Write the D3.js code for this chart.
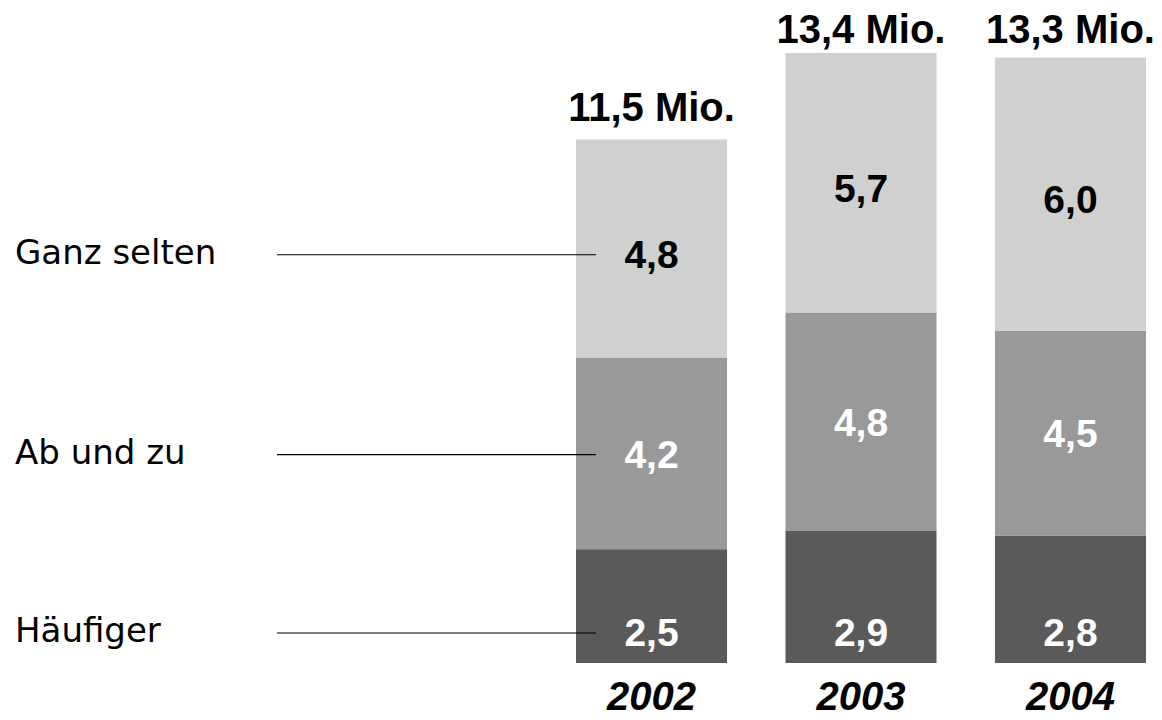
<!DOCTYPE html>
<html>
<head>
<meta charset="utf-8">
<script src="https://cdn.jsdelivr.net/npm/d3@7/dist/d3.min.js"></script>
<style>
  html, body { margin: 0; padding: 0; background: #fff; }
  svg { display: block; }
</style>
</head>
<body>
<svg id="chart" width="1162" height="720"></svg>
<script>
// ---- data ----
const years = ["2002", "2003", "2004"];
const seriesNames = ["Häufiger", "Ab und zu", "Ganz selten"];
const haeufiger = [2.5, 2.9, 2.8];
const abUndZu = [4.2, 4.8, 4.5];
const ganzSelten = [4.8, 5.7, 6.0];

const seriesValues = [haeufiger, abUndZu, ganzSelten];
const fills = ["#5a5a5a", "#999999", "#d0d0d0"];
const textFills = ["#ffffff", "#ffffff", "#000000"];

const rows = years.map((y, i) => {
  const r = { year: y };
  seriesNames.forEach((s, k) => r[s] = seriesValues[k][i]);
  return r;
});
const stacked = d3.stack().keys(seriesNames)(rows);
const totals = rows.map(r => d3.sum(seriesNames, s => r[s]));

const fmt = v => d3.format(".1f")(v).replace(".", ",");

const svg = d3.select("#chart");
const x = d3.scaleBand().domain(years).range([576, 1146]).paddingInner(0.279).paddingOuter(0);
const y = d3.scaleLinear().domain([0, 13.4]).range([663, 53]);

const numFont = "'Liberation Sans', Arial, sans-serif";
const catFont = "'DejaVu Sans', sans-serif";

// bars
const layers = svg.append("g").selectAll("g").data(stacked).join("g")
  .attr("fill", (d, k) => fills[k]);
layers.selectAll("rect").data(d => d).join("rect")
  .attr("x", d => x(d.data.year))
  .attr("width", x.bandwidth())
  .attr("y", d => y(d[1]))
  .attr("height", d => y(d[0]) - y(d[1]));

// label position for a segment
const labelShift = [0, 0, 5];
function labelY(d, k) {
  if (k === 0) return y(0) - 31;
  return (y(d[0]) + y(d[1])) / 2 + labelShift[k];
}

// legend lines + category labels (aligned with first bar's labels)
stacked.forEach((layer, k) => {
  const ly = labelY(layer[0], k) + 1;
  svg.append("line")
    .attr("x1", 277).attr("x2", 596)
    .attr("y1", ly).attr("y2", ly)
    .attr("stroke", "#000").attr("stroke-width", 1.2);
  svg.append("text")
    .attr("x", 15).attr("y", ly + 9)
    .attr("font-family", catFont).attr("font-size", 34)
    .attr("fill", "#000")
    .text(seriesNames[k]);
});

// value labels
layers.each(function(layer, k) {
  d3.select(this).selectAll("text").data(layer).join("text")
    .attr("x", d => x(d.data.year) + x.bandwidth() / 2)
    .attr("y", d => labelY(d, k))
    .attr("dy", "0.36em")
    .attr("text-anchor", "middle")
    .attr("font-family", numFont).attr("font-weight", "bold").attr("font-size", 39)
    .attr("fill", textFills[k])
    .text(d => fmt(d[1] - d[0]));
});

// totals
svg.append("g").selectAll("text").data(years).join("text")
  .attr("x", d => x(d) + x.bandwidth() / 2)
  .attr("y", (d, i) => Math.max(y(totals[i]) - 18, 43))
  .attr("text-anchor", "middle")
  .attr("font-family", numFont).attr("font-weight", "bold").attr("font-size", 40)
  .attr("fill", "#000")
  .text((d, i) => fmt(totals[i]) + " Mio.");

// year axis labels
const xAxis = d3.axisBottom(x).tickSize(0).tickPadding(0);
const ax = svg.append("g").attr("transform", "translate(0,663)").call(xAxis);
ax.select(".domain").remove();
ax.selectAll("text")
  .attr("y", 47).attr("dy", 0)
  .attr("font-family", numFont).attr("font-weight", "bold").attr("font-style", "italic")
  .attr("font-size", 40).attr("fill", "#000");
</script>
</body>
</html>
